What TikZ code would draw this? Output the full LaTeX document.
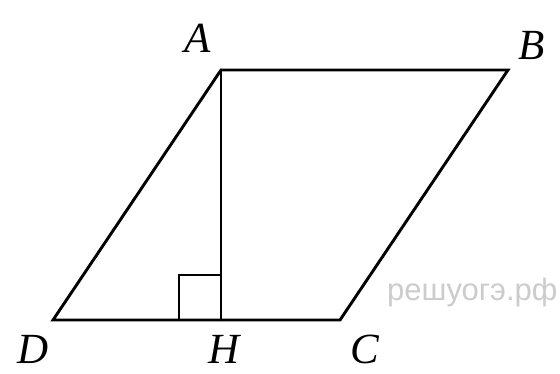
\documentclass[tikz,border=0pt]{standalone}
\usepackage{fontspec}
\setmainfont{Liberation Serif}
\newfontfamily\wmfont{Liberation Sans}
\begin{document}
\begin{tikzpicture}[x=1pt,y=-1pt,
  seg/.style={line width=2.9pt,line cap=round,line join=miter},
  lbl/.style={font=\fontsize{43}{43}\selectfont\itshape,inner sep=0pt},
  wm/.style={font=\wmfont\fontsize{31}{31}\selectfont,text=black!20,inner sep=0pt,anchor=base west}]
\path[use as bounding box,fill=white] (0,0) rectangle (560,373);
\coordinate (A) at (221,70);
\coordinate (B) at (508,70);
\coordinate (C) at (340,320);
\coordinate (D) at (53,320);
\coordinate (H) at (221,320);
\draw[seg] (A) -- (B) -- (C) -- (D) -- cycle;
\draw[seg] (A) -- (H);
\draw[line width=2.6pt] (H) ++(-42,0) -- ++(0,-45) -- ++(42,0);
\node[lbl] (lA) at (198,38) {A};
\node[lbl] (lB) at (532,45) {B};
\node[lbl] (lC) at (365,349) {C};
\node[lbl] (lD) at (33,349) {D};
\node[lbl] (lH) at (224,349) {H};
\node[wm] (wm) at (387,300) {решуогэ.рф};
\end{tikzpicture}
\end{document}
